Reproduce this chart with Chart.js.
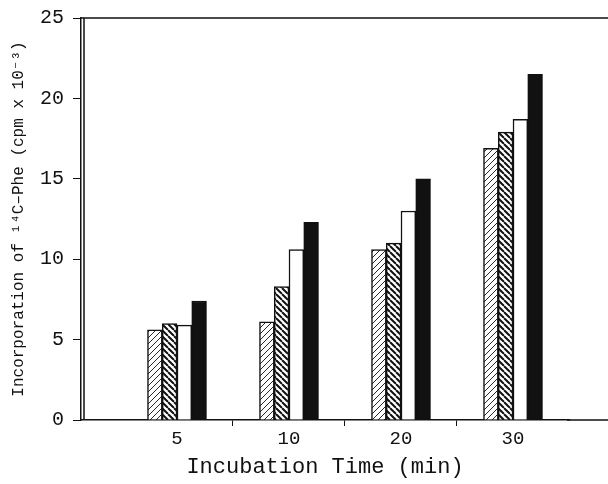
<!DOCTYPE html>
<html>
<head>
<meta charset="utf-8">
<script src="https://cdn.jsdelivr.net/npm/chart.js@4"></script>
<style>
  html, body { margin: 0; padding: 0; background: #fff; }
  #wrap { width: 608px; height: 484px; }
</style>
</head>
<body>
<div id="wrap"><canvas id="chart"></canvas></div>
<script>
// incubation times (category positions 1..4 on the x axis)
const times = ['5', '10', '20', '30'];
const positions = [1, 2, 3, 4];
const yTicks = [0, 5, 10, 15, 20, 25];

// cpm x 10^-3
const lightHatch = [5.6, 6.1, 10.6, 16.9];
const denseHatch = [6.0, 8.3, 11.0, 17.9];
const openBar = [5.9, 10.6, 13.0, 18.7];
const solidBar = [7.4, 12.3, 15.0, 21.5];

const FONT = "'Liberation Mono', 'DejaVu Sans Mono', monospace";
const INK = '#111';

function hatch(dir, lineWidth) {
  const size = 6;
  const c = document.createElement('canvas');
  c.width = size;
  c.height = size;
  const g = c.getContext('2d');
  g.fillStyle = '#fff';
  g.fillRect(0, 0, size, size);
  g.strokeStyle = INK;
  g.lineWidth = lineWidth;
  g.beginPath();
  for (let k = -1; k <= 1; k++) {
    if (dir === '/') {
      g.moveTo(k * size, size);
      g.lineTo(k * size + size, 0);
    } else {
      g.moveTo(k * size, 0);
      g.lineTo(k * size + size, size);
    }
  }
  g.stroke();
  return g.createPattern(c, 'repeat');
}

const toPoints = (vals) => vals.map((v, i) => ({ x: positions[i], y: v }));

// top line, second left rule, and axis lines running on to the page edge
const frame = {
  id: 'frame',
  afterDraw(chart) {
    const { ctx, chartArea: a } = chart;
    const w = chart.width;
    ctx.save();
    ctx.strokeStyle = INK;
    ctx.lineWidth = 1.5;
    ctx.beginPath();
    ctx.moveTo(a.left, a.top);
    ctx.lineTo(w, a.top);
    ctx.moveTo(a.right - 2, a.bottom);
    ctx.lineTo(w, a.bottom);
    ctx.moveTo(a.left + 3, a.top);
    ctx.lineTo(a.left + 3, a.bottom);
    ctx.stroke();
    ctx.restore();
  },
};

const barStyle = { borderColor: INK, borderWidth: 1.5, borderSkipped: 'start', barThickness: 14.75 };

new Chart(document.getElementById('chart'), {
  type: 'bar',
  data: {
    datasets: [
      { label: 'a', data: toPoints(lightHatch), backgroundColor: hatch('/', 0.9), ...barStyle },
      { label: 'b', data: toPoints(denseHatch), backgroundColor: hatch('\\', 2), ...barStyle },
      { label: 'c', data: toPoints(openBar), backgroundColor: '#fff', ...barStyle },
      { label: 'd', data: toPoints(solidBar), backgroundColor: INK, ...barStyle },
    ],
  },
  options: {
    responsive: true,
    maintainAspectRatio: false,
    animation: false,
    layout: { padding: { top: 18, right: 39, left: 0, bottom: 0 } },
    plugins: { legend: { display: false }, tooltip: { enabled: false } },
    scales: {
      x: {
        type: 'linear',
        offset: false,
        min: 0.143,
        max: 4.5,
        afterBuildTicks: (s) => { s.ticks = [1, 1.5, 2, 2.5, 3, 3.5, 4].map((v) => ({ value: v })); },
        afterFit: (s) => { s.height = 64; },
        border: { color: INK, width: 1.5 },
        grid: {
          offset: false,
          drawOnChartArea: false,
          tickLength: 6,
          tickColor: (c) => (c.tick && c.tick.value % 1 ? INK : 'rgba(0,0,0,0)'),
        },
        ticks: {
          autoSkip: false,
          maxRotation: 0,
          padding: 2,
          color: INK,
          font: { family: FONT, size: 19 },
          callback: (v) => (v % 1 ? '' : times[positions.indexOf(v)]),
        },
        title: {
          display: true,
          text: 'Incubation Time (min)',
          color: INK,
          padding: { top: 0 },
          font: { family: FONT, size: 22 },
        },
      },
      y: {
        min: 0,
        max: 25,
        afterBuildTicks: (s) => { s.ticks = yTicks.map((v) => ({ value: v })); },
        afterFit: (s) => { s.width = 81; s.paddingTop = 0; s.paddingBottom = 0; },
        border: { color: INK, width: 1.5 },
        grid: { drawOnChartArea: false, tickLength: 8, tickColor: INK },
        ticks: { color: INK, padding: 9, font: { family: FONT, size: 20 } },
        title: {
          display: true,
          text: 'Incorporation of ¹⁴C–Phe (cpm x 10⁻³)',
          color: INK,
          padding: { top: 9, bottom: 2 },
          font: { family: FONT, size: 16 },
        },
      },
    },
  },
  plugins: [frame],
});
</script>
</body>
</html>
